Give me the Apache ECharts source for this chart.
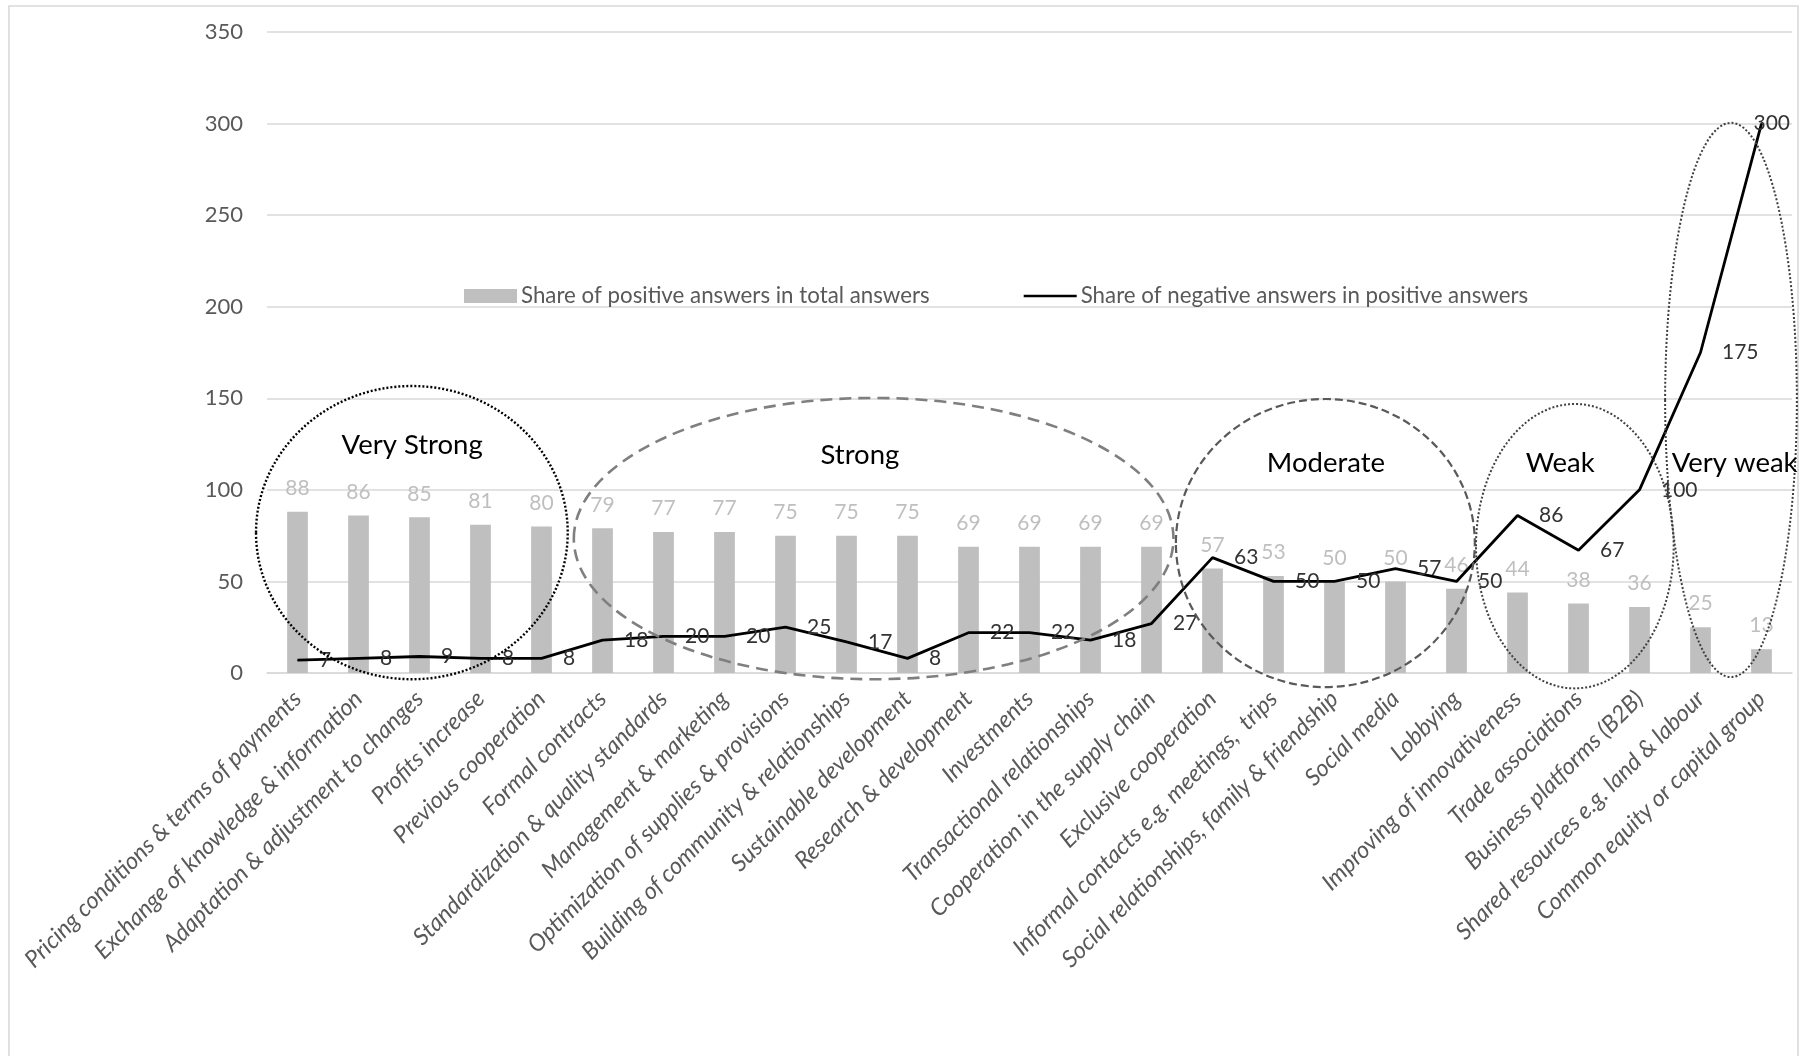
<!DOCTYPE html>
<html>
<head>
<meta charset="utf-8">
<script src="https://cdn.jsdelivr.net/npm/echarts@6/dist/echarts.min.js"></script>
<style>
  html, body { margin: 0; padding: 0; background: #ffffff; }
  #chart { width: 1811px; height: 1056px; }
</style>
</head>
<body>
<div id="chart"></div>
<script>
// Cooperation factors, ordered by share of positive answers
const categories = [
  'Pricing conditions & terms of payments',
  'Exchange of knowledge & information',
  'Adaptation & adjustment to changes',
  'Profits increase',
  'Previous cooperation',
  'Formal contracts',
  'Standardization & quality standards',
  'Management & marketing',
  'Optimization of supplies & provisions',
  'Building of community & relationships',
  'Sustainable development',
  'Research & development',
  'Investments',
  'Transactional relationships',
  'Cooperation in the supply chain',
  'Exclusive cooperation',
  'Informal contacts e.g. meetings,  trips',
  'Social relationships, family & friendship',
  'Social media',
  'Lobbying',
  'Improving of innovativeness',
  'Trade associations',
  'Business platforms (B2B)',
  'Shared resources e.g. land & labour',
  'Common equity or capital group'
];

const positiveShare = [88, 86, 85, 81, 80, 79, 77, 77, 75, 75, 75, 69, 69, 69, 69, 57, 53, 50, 50, 46, 44, 38, 36, 25, 13];
const negativeShare = [7, 8, 9, 8, 8, 18, 20, 20, 25, 17, 8, 22, 22, 18, 27, 63, 50, 50, 57, 50, 86, 67, 100, 175, 300];

const seriesNames = ['Share of positive answers in total answers', 'Share of negative answers in positive answers'];

const yMin = 0, yMax = 350, yStep = 50;

// Strength groups drawn as ellipses, expressed in axis units:
// [from category index, to category index, low value, high value]
const groupNames = ['Very Strong', 'Strong', 'Moderate', 'Weak', 'Very weak'];
const groupSpans = [
  [-0.68, 4.43, -3.4, 156.7],
  [4.53, 14.36, -3.4, 150.2],
  [14.40, 19.30, -7.7, 149.6],
  [19.32, 22.56, -8.4, 146.9],
  [22.42, 24.58, -2.2, 300.4]
];
// caption anchor of every group: [category index, value]
const groupCaptionAt = [
  [1.88, 124.5],
  [9.22, 119.0],
  [16.86, 114.6],
  [20.70, 114.6],
  [23.56, 114.6]
];
const groupOutline = [
  { stroke: '#000000', lineWidth: 2.4, lineDash: [2, 2] },
  { stroke: '#7f7f7f', lineWidth: 2.6, lineDash: [12, 7] },
  { stroke: '#595959', lineWidth: 2.2, lineDash: [8, 4] },
  { stroke: '#404040', lineWidth: 2.0, lineDash: [2, 2] },
  { stroke: '#404040', lineWidth: 2.0, lineDash: [2, 2] }
];

const FONT = 'Lato, "Open Sans", sans-serif';
const FRAME_RIGHT = 1790;

const chart = echarts.init(document.getElementById('chart'), null, { renderer: 'canvas' });

const option = {
  backgroundColor: '#ffffff',
  animation: false,
  textStyle: { fontFamily: FONT },
  grid: { left: 267, right: 19, top: 32, bottom: 383, containLabel: false },
  legend: {
    left: 459,
    top: 280,
    itemWidth: 53,
    itemHeight: 14,
    itemGap: 94,
    textStyle: { fontFamily: FONT, fontSize: 22.3, color: '#595959', padding: [0, 0, 0, -1] },
    data: [
      { name: seriesNames[0], icon: 'rect' },
      { name: seriesNames[1], icon: 'path://M0,0 M54,14 M0,5.8 L54,5.8 L54,8.4 L0,8.4 Z' }
    ]
  },
  xAxis: {
    type: 'category',
    data: categories,
    boundaryGap: true,
    axisLine: { show: true, lineStyle: { color: '#d9d9d9', width: 1.6 } },
    axisTick: { show: false },
    axisLabel: {
      interval: 0,
      rotate: 45,
      margin: 22,
      fontFamily: FONT,
      fontStyle: 'italic',
      fontSize: 23.5,
      color: '#595959'
    },
    splitLine: { show: false }
  },
  yAxis: {
    type: 'value',
    min: yMin,
    max: yMax,
    interval: yStep,
    axisLine: { show: false },
    axisTick: { show: false },
    axisLabel: { margin: 24, fontFamily: FONT, fontSize: 22, color: '#595959' },
    splitLine: { show: true, lineStyle: { color: '#d9d9d9', width: 1.6 } }
  },
  series: [
    {
      name: seriesNames[0],
      type: 'bar',
      data: positiveShare,
      barWidth: '34%',
      itemStyle: { color: '#bfbfbf' },
      label: {
        show: true,
        position: 'top',
        distance: 13,
        fontFamily: FONT,
        fontSize: 21,
        color: '#bfbfbf'
      },
      z: 2
    },
    {
      name: seriesNames[1],
      type: 'line',
      data: negativeShare,
      symbol: 'circle',
      symbolSize: 1,
      itemStyle: { color: '#000000' },
      lineStyle: { color: '#000000', width: 2.8 },
      label: {
        show: true,
        position: 'right',
        distance: 21,
        fontFamily: FONT,
        fontSize: 21,
        color: '#333333'
      },
      // keep the value labels inside the chart frame
      labelLayout: function (params) {
        const r = params.labelRect;
        const over = r.x + r.width - FRAME_RIGHT;
        return over > 0
          ? { x: r.x - over, y: r.y, align: 'left', verticalAlign: 'top' }
          : {};
      },
      z: 3
    }
  ]
};

chart.setOption(option);

// Place the group ellipses and captions through the axes' own scales
function drawGroups() {
  const a = chart.convertToPixel({ gridIndex: 0 }, [0, 0]);
  const b = chart.convertToPixel({ gridIndex: 0 }, [1, 100]);
  const px = i => a[0] + i * (b[0] - a[0]);
  const py = v => a[1] + v * (b[1] - a[1]) / 100;

  const elements = [
    {
      type: 'rect',
      silent: true,
      shape: { x: 9, y: 6, width: 1789, height: 1060 },
      style: { fill: null, stroke: '#d9d9d9', lineWidth: 1.6 },
      z: 0
    }
  ];

  groupNames.forEach((name, k) => {
    const s = groupSpans[k];
    const x0 = px(s[0]), x1 = px(s[1]);
    const y0 = py(s[3]), y1 = py(s[2]);
    elements.push({
      type: 'ellipse',
      silent: true,
      shape: { cx: (x0 + x1) / 2, cy: (y0 + y1) / 2, rx: (x1 - x0) / 2, ry: (y1 - y0) / 2 },
      style: Object.assign({ fill: null }, groupOutline[k]),
      z: 10
    });
    const c = groupCaptionAt[k];
    elements.push({
      type: 'text',
      silent: true,
      x: px(c[0]),
      y: py(c[1]),
      style: {
        text: name,
        fill: '#000000',
        font: '27.5px ' + FONT,
        align: 'center',
        verticalAlign: 'middle',
        textAlign: 'center',
        textVerticalAlign: 'middle'
      },
      z: 11
    });
  });

  chart.setOption({ graphic: { elements: elements } });
}

drawGroups();
</script>
</body>
</html>
